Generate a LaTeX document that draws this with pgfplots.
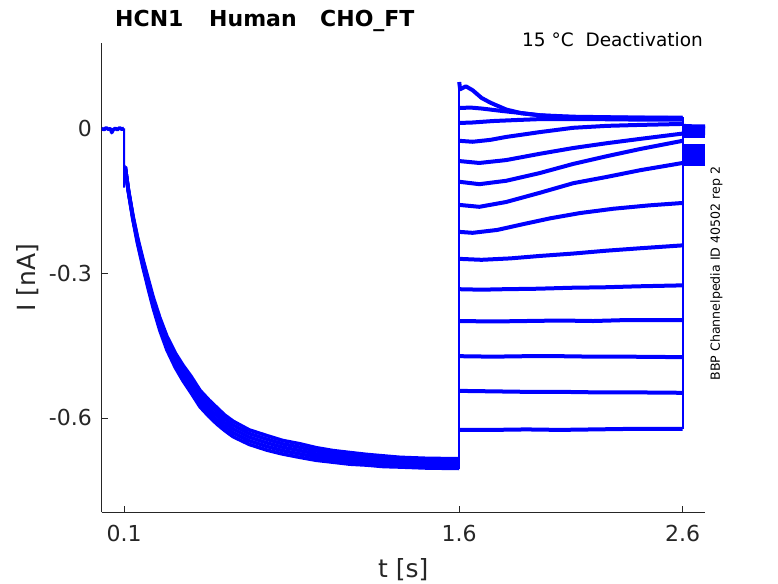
\documentclass[border=0pt]{standalone}
\usepackage{fontspec}
\setmainfont{DejaVu Sans}
\usepackage{pgfplots}
\usepackage{pgfplotstable}
\pgfplotsset{compat=1.18}
\definecolor{axgray}{rgb}{0.15,0.15,0.15}
\definecolor{mblue}{rgb}{0,0,1}
\tikzset{tr/.style={draw=mblue, solid, line width=4pt, line join=round, mark=none},
         pp/.style={draw=mblue, solid, line width=3.6pt, line join=round, mark=none},
         vl/.style={draw=mblue, solid, line width=2pt, mark=none}}
\pgfplotstableread{
t     a       b       c       d       e
0.105 -0.079  -0.079  -0.079  -0.079  -0.079
0.120 -0.132  -0.131  -0.130  -0.129  -0.128
0.140 -0.189  -0.187  -0.185  -0.183  -0.181
0.160 -0.237  -0.234  -0.231  -0.228  -0.225
0.185 -0.288  -0.284  -0.280  -0.276  -0.272
0.210 -0.335  -0.330  -0.325  -0.320  -0.315
0.230 -0.371  -0.3655 -0.360  -0.3545 -0.349
0.260 -0.418  -0.4115 -0.405  -0.3985 -0.392
0.292 -0.459  -0.452  -0.445  -0.438  -0.431
0.330 -0.496  -0.4885 -0.481  -0.4735 -0.466
0.364 -0.523  -0.515  -0.507  -0.499  -0.491
0.400 -0.548  -0.5395 -0.531  -0.5225 -0.514
0.440 -0.577  -0.5685 -0.560  -0.5515 -0.543
0.480 -0.597  -0.5885 -0.580  -0.5715 -0.563
0.516 -0.613  -0.6045 -0.596  -0.5875 -0.579
0.550 -0.626  -0.618  -0.610  -0.602  -0.594
0.588 -0.639  -0.631  -0.623  -0.615  -0.607
0.660 -0.655  -0.6475 -0.640  -0.6325 -0.625
0.740 -0.667  -0.6595 -0.652  -0.6445 -0.637
0.810 -0.675  -0.668  -0.661  -0.654  -0.647
0.888 -0.682  -0.675  -0.668  -0.661  -0.654
0.960 -0.688  -0.6815 -0.675  -0.6685 -0.662
1.036 -0.692  -0.686  -0.680  -0.674  -0.668
1.110 -0.696  -0.690  -0.684  -0.678  -0.672
1.187 -0.698  -0.6925 -0.687  -0.6815 -0.676
1.260 -0.701  -0.6955 -0.690  -0.6845 -0.679
1.335 -0.702  -0.697  -0.692  -0.687  -0.682
1.450 -0.704  -0.699  -0.694  -0.689  -0.684
1.600 -0.705  -0.700  -0.695  -0.690  -0.685
}\prepulse
\begin{document}
\begin{tikzpicture}
\useasboundingbox (0pt,0pt) rectangle (778pt,583pt);
\begin{axis}[
  at={(101.7pt,70.7pt)}, anchor=south west,
  scale only axis, width=603.3pt, height=469.3pt,
  xmin=0, xmax=2.7, ymin=-0.796, ymax=0.178,
  axis x line*=bottom, axis y line*=left,
  axis line style={draw=axgray, line width=0.6pt},
  xtick={0.1,1.6,2.6}, xticklabels={0.1,1.6,2.6},
  ytick={-0.6,-0.3,0}, yticklabels={-0.6,-0.3,0},
  tick align=inside, major tick length=6pt,
  every tick/.style={draw=axgray, line width=0.6pt},
  xticklabel style={font=\fontsize{22}{26}\selectfont, text=axgray, inner sep=0pt, anchor=north, yshift=-12.7pt},
  yticklabel style={font=\fontsize{22}{26}\selectfont, text=axgray, inner sep=0pt, anchor=east, xshift=-9.7pt},
]
% holding
\addplot[pp] coordinates {(0.000,0.001)(0.010,-0.002)(0.020,0.002)(0.030,-0.001)(0.040,0.000)(0.045,-0.008)(0.050,-0.003)(0.060,0.001)(0.070,-0.002)(0.080,0.002)(0.090,-0.001)(0.100,0.001)};
% vertical steps
\addplot[vl] coordinates {(0.100,0.001)(0.100,-0.122)(0.1015,-0.076)(0.105,-0.079)};
\addplot[vl] coordinates {(1.6,-0.707)(1.6,0.097)};
\addplot[vl] coordinates {(2.6,0.024)(2.6,-0.623)};
% prepulse variants
\addplot[pp] table[x=t,y=a] {\prepulse};
\addplot[pp] table[x=t,y=b] {\prepulse};
\addplot[pp] table[x=t,y=c] {\prepulse};
\addplot[pp] table[x=t,y=d] {\prepulse};
\addplot[pp] table[x=t,y=e] {\prepulse};
% test pulses
\addplot[tr] coordinates {(1.6,0.097)(1.604,0.082)(1.63,0.088)(1.66,0.080)(1.70,0.064)(1.74,0.054)(1.81,0.040)(1.88,0.032)(1.96,0.028)(2.11,0.025)(2.26,0.024)(2.41,0.023)(2.6,0.023)};
\addplot[tr] coordinates {(1.6,0.043)(1.65,0.044)(1.70,0.042)(1.79,0.037)(1.89,0.032)(1.96,0.028)(2.05,0.025)(2.20,0.023)(2.40,0.023)(2.6,0.022)};
\addplot[tr] coordinates {(1.6,0.012)(1.66,0.013)(1.75,0.016)(1.85,0.018)(1.96,0.020)(2.20,0.020)(2.40,0.019)(2.6,0.019)};
\addplot[tr] coordinates {(1.6,-0.025)(1.66,-0.027)(1.74,-0.023)(1.81,-0.017)(1.96,-0.007)(2.11,0.002)(2.26,0.006)(2.41,0.008)(2.6,0.010)};
\addplot[tr] coordinates {(1.6,-0.067)(1.69,-0.071)(1.81,-0.065)(1.96,-0.052)(2.11,-0.040)(2.26,-0.030)(2.41,-0.021)(2.6,-0.010)};
\addplot[tr] coordinates {(1.6,-0.110)(1.69,-0.115)(1.81,-0.108)(1.96,-0.092)(2.11,-0.073)(2.26,-0.057)(2.41,-0.042)(2.6,-0.025)};
\addplot[tr] coordinates {(1.6,-0.158)(1.69,-0.162)(1.81,-0.152)(1.96,-0.133)(2.11,-0.113)(2.26,-0.100)(2.41,-0.086)(2.6,-0.071)};
\addplot[tr] coordinates {(1.6,-0.214)(1.66,-0.216)(1.77,-0.210)(1.886,-0.198)(2.006,-0.186)(2.14,-0.175)(2.29,-0.166)(2.45,-0.159)(2.6,-0.154)};
\addplot[tr] coordinates {(1.6,-0.270)(1.70,-0.272)(1.83,-0.269)(1.96,-0.264)(2.11,-0.259)(2.26,-0.253)(2.41,-0.248)(2.6,-0.242)};
\addplot[tr] coordinates {(1.6,-0.333)(1.70,-0.334)(1.80,-0.333)(1.95,-0.332)(2.10,-0.330)(2.25,-0.329)(2.40,-0.327)(2.6,-0.325)};
\addplot[tr] coordinates {(1.6,-0.399)(1.75,-0.400)(1.90,-0.399)(2.05,-0.398)(2.20,-0.399)(2.35,-0.397)(2.6,-0.397)};
\addplot[tr] coordinates {(1.6,-0.472)(1.75,-0.473)(1.90,-0.472)(2.05,-0.472)(2.20,-0.473)(2.35,-0.473)(2.6,-0.474)};
\addplot[tr] coordinates {(1.6,-0.544)(1.75,-0.545)(1.90,-0.546)(2.05,-0.546)(2.20,-0.547)(2.35,-0.547)(2.6,-0.548)};
\addplot[tr] coordinates {(1.6,-0.625)(1.75,-0.625)(1.90,-0.624)(2.05,-0.625)(2.20,-0.624)(2.35,-0.623)(2.6,-0.623)};
% tails
\addplot[tr] coordinates {(2.6,0.006)(2.65,0.005)(2.7,0.005)};
\addplot[tr] coordinates {(2.6,0.003)(2.7,0.002)};
\addplot[tr] coordinates {(2.6,-0.001)(2.7,-0.002)};
\addplot[tr] coordinates {(2.6,-0.006)(2.7,-0.007)};
\addplot[tr] coordinates {(2.6,-0.011)(2.7,-0.012)};
\addplot[tr] coordinates {(2.6,-0.016)(2.7,-0.016)};
\addplot[tr] coordinates {(2.6,-0.036)(2.7,-0.036)};
\addplot[tr] coordinates {(2.6,-0.043)(2.7,-0.043)};
\addplot[tr] coordinates {(2.6,-0.049)(2.7,-0.049)};
\addplot[tr] coordinates {(2.6,-0.055)(2.7,-0.055)};
\addplot[tr] coordinates {(2.6,-0.060)(2.7,-0.060)};
\addplot[tr] coordinates {(2.6,-0.065)(2.7,-0.065)};
\addplot[tr] coordinates {(2.6,-0.070)(2.7,-0.070)};
\addplot[tr] coordinates {(2.6,-0.074)(2.7,-0.074)};
\end{axis}
\node[anchor=base west, inner sep=0pt, font=\fontsize{22}{26}\selectfont\bfseries] at (115pt,556.3pt) {HCN1};
\node[anchor=base west, inner sep=0pt, font=\fontsize{22}{26}\selectfont\bfseries] at (209pt,556.3pt) {Human};
\node[anchor=base west, inner sep=0pt, font=\fontsize{22}{26}\selectfont\bfseries] at (320pt,556.3pt) {CHO\_FT};
\node[anchor=base east, inner sep=0pt, font=\fontsize{18.5}{22}\selectfont] at (703pt,536.3pt) {15~°C~~Deactivation};
\node[rotate=90, anchor=center, inner sep=0pt, font=\fontsize{12.6}{15}\selectfont] at (716.5pt,309.5pt) {BBP Channelpedia ID 40502 rep 2};
\node[anchor=base, inner sep=0pt, font=\fontsize{25}{30}\selectfont, text=axgray] at (403.35pt,6pt) {t [s]};
\node[rotate=90, anchor=base, inner sep=0pt, font=\fontsize{25}{30}\selectfont, text=axgray] at (35.7pt,305.5pt) {I [nA]};
\end{tikzpicture}
\end{document}
